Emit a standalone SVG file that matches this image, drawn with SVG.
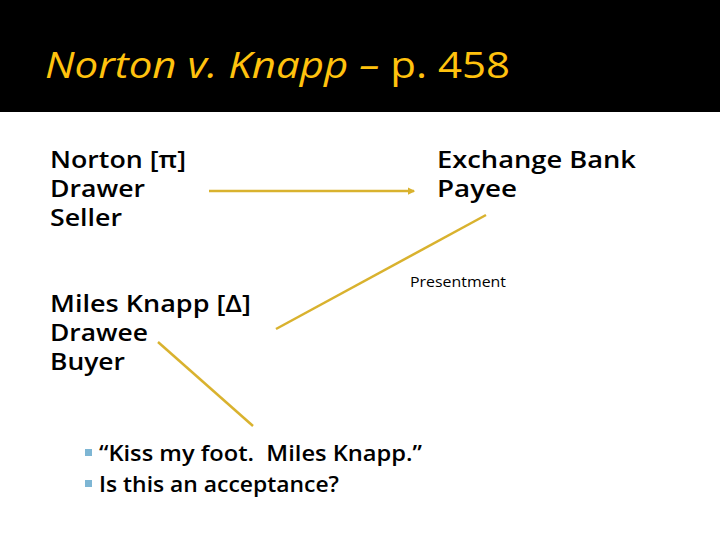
<svg xmlns="http://www.w3.org/2000/svg" width="720" height="540" viewBox="0 0 720 540">
<style>
.t{font-family:"Open Sans","Noto Sans","DejaVu Sans",sans-serif;fill:#000;font-weight:600}
.lbl{font-size:23px}
.ttl{font-family:"Open Sans","Noto Sans",sans-serif;font-size:37px;fill:#FFC20E;font-weight:500}
.conn{stroke:#D9B22E;stroke-width:2.5;fill:none}
.bul{fill:#7EB6D4}
</style>
<defs>
<marker id="ah" viewBox="0 0 6 6" refX="5" refY="3" markerWidth="3" markerHeight="3" orient="auto"><path d="M0,0L6,3L0,6z" fill="#D9B22E"/></marker>
</defs>
<rect width="720" height="540" fill="#fff"/>
<rect id="titlebar" width="720" height="112" fill="#000"/>
<text class="ttl" x="45" y="78" textLength="465" lengthAdjust="spacingAndGlyphs"><tspan font-style="italic">Norton v. Knapp –</tspan> p. 458</text>
<g id="norton"><text class="t lbl" x="50" y="168" textLength="136" lengthAdjust="spacingAndGlyphs">Norton [π]</text><text class="t lbl" x="50" y="197" textLength="95" lengthAdjust="spacingAndGlyphs">Drawer</text><text class="t lbl" x="50" y="226" textLength="72" lengthAdjust="spacingAndGlyphs">Seller</text></g>
<g id="bank"><text class="t lbl" x="437" y="168" textLength="199" lengthAdjust="spacingAndGlyphs">Exchange Bank</text><text class="t lbl" x="437" y="197" textLength="80" lengthAdjust="spacingAndGlyphs">Payee</text></g>
<g id="knapp"><text class="t lbl" x="50" y="312" textLength="201" lengthAdjust="spacingAndGlyphs">Miles Knapp [Δ]</text><text class="t lbl" x="50" y="341" textLength="98" lengthAdjust="spacingAndGlyphs">Drawee</text><text class="t lbl" x="50" y="370" textLength="75" lengthAdjust="spacingAndGlyphs">Buyer</text></g>
<g id="connectors">
<line class="conn" x1="209" y1="191" x2="414" y2="191" marker-end="url(#ah)"/>
<line class="conn" x1="486" y1="215" x2="276" y2="329"/>
<line class="conn" x1="158" y1="342" x2="253" y2="426"/>
</g>
<text x="410" y="287" font-size="15" font-family="Open Sans, Noto Sans, sans-serif" textLength="96" lengthAdjust="spacingAndGlyphs">Presentment</text>
<g id="bullets">
<rect class="bul" x="85" y="449" width="7" height="7"/>
<text class="t" x="99" y="461" font-size="21" textLength="323" lengthAdjust="spacingAndGlyphs">“Kiss my foot.&#160; Miles Knapp.”</text>
<rect class="bul" x="85" y="480" width="7" height="7"/>
<text class="t" x="99" y="492" font-size="21" textLength="240" lengthAdjust="spacingAndGlyphs">Is this an acceptance?</text>
</g>
</svg>
